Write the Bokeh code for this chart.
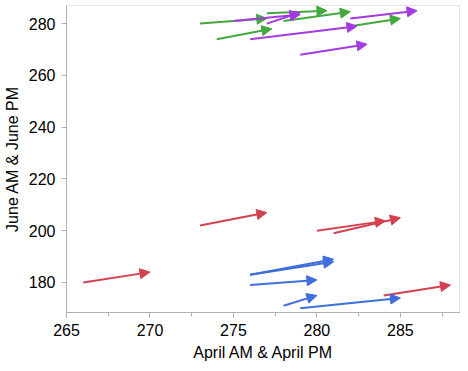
from bokeh.plotting import figure
from bokeh.models import ColumnDataSource, Arrow, NormalHead, SingleIntervalTicker, Range1d
from bokeh.embed import file_html
from bokeh.resources import INLINE

# data: (April AM, June AM) -> (April PM, June PM)
red_x0 = [273, 280, 281, 284, 266]
red_y0 = [202, 200, 199, 175, 180]
red_x1 = [277, 284.1, 285, 288, 270]
red_y1 = [207, 203.8, 205, 179, 184]

blue_x0 = [276, 276, 276, 278, 279]
blue_y0 = [183, 183, 179, 171, 170]
blue_x1 = [281, 281, 280, 280, 285]
blue_y1 = [189, 188, 181, 175, 174]

green_x0 = [273, 274, 277, 278, 282]
green_y0 = [280, 274, 284, 281, 279]
green_x1 = [277, 277.3, 280.6, 282, 285]
green_y1 = [282, 278, 285, 284.6, 282]

purple_x0 = [275, 277, 276, 279, 282]
purple_y0 = [281, 280, 274, 268, 282]
purple_x1 = [279, 279, 282.4, 283, 286]
purple_y1 = [283.5, 284.3, 279, 272, 285]

groups = [
    (red_x0, red_y0, red_x1, red_y1, "#d3434f"),
    (blue_x0, blue_y0, blue_x1, blue_y1, "#3f6fdc"),
    (green_x0, green_y0, green_x1, green_y1, "#43a83e"),
    (purple_x0, purple_y0, purple_x1, purple_y1, "#a43be0"),
]

p = figure(width=460, height=363, output_backend="svg", toolbar_location=None,
           x_range=Range1d(265, 288.6), y_range=Range1d(168.4, 287),
           min_border_left=63, min_border_right=0, min_border_top=5, min_border_bottom=47)
p.grid.visible = False
p.outline_line_color = "#e4e4e4"
p.background_fill_color = "white"

for x0, y0, x1, y1, c in groups:
    src = ColumnDataSource(dict(x0=x0, y0=y0, x1=x1, y1=y1))
    p.add_layout(Arrow(x_start="x0", y_start="y0", x_end="x1", y_end="y1", source=src,
                       line_color=c, line_width=2,
                       end=NormalHead(size=10, fill_color=c, line_color=c, line_width=1)))

p.xaxis.ticker = SingleIntervalTicker(interval=5, num_minor_ticks=2)
p.yaxis.ticker = SingleIntervalTicker(interval=20, num_minor_ticks=0)
for ax in (p.xaxis, p.yaxis):
    ax.axis_line_color = "#b0b0b0"
    ax.major_tick_line_color = "#b0b0b0"
    ax.minor_tick_line_color = "#b0b0b0"
    ax.major_tick_out = 5
    ax.major_tick_in = 0
    ax.minor_tick_out = 4
    ax.minor_tick_in = 0
    ax.major_label_text_font = "Liberation Sans"
    ax.major_label_text_font_size = "16px"
    ax.major_label_text_color = "black"
    ax.axis_label_text_font = "Liberation Sans"
    ax.axis_label_text_font_size = "16px"
    ax.axis_label_text_font_style = "normal"
    ax.axis_label_text_color = "black"
    ax.major_label_standoff = 6
    ax.axis_label_standoff = 5
p.xaxis.axis_label = "April AM & April PM"
p.yaxis.axis_label = "June AM & June PM"

open("out.html", "w").write(file_html(p, INLINE))
